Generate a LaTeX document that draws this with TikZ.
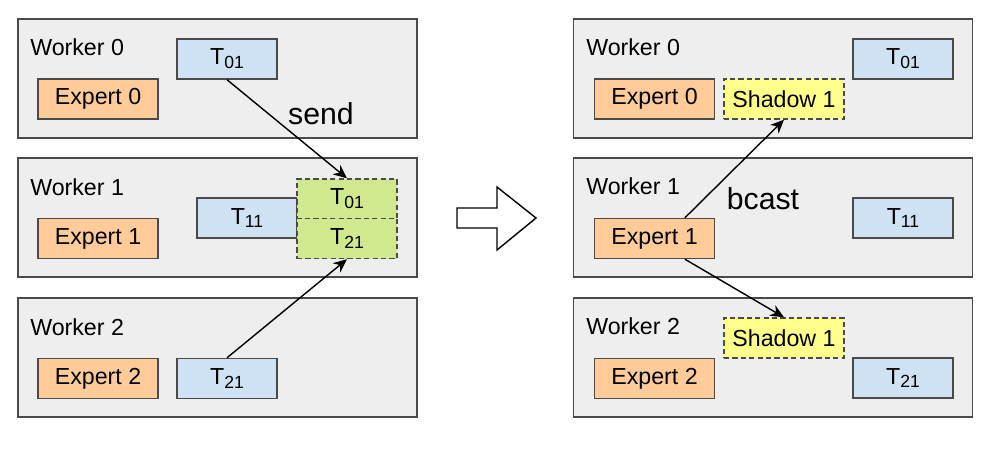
\documentclass[tikz,border=0pt]{standalone}
\usepackage{fontspec}
\setmainfont{Liberation Sans}
\usepackage{tikz}
\usetikzlibrary{arrows.meta}
\definecolor{wgray}{HTML}{EEEEEE}
\definecolor{edgegray}{HTML}{4A4A4A}
\definecolor{expertorange}{HTML}{FFCC99}
\definecolor{tokblue}{HTML}{CFE2F3}
\definecolor{recvgreen}{HTML}{D1E98E}
\definecolor{shadowyellow}{HTML}{FFFF8C}
\newcommand{\tsub}[1]{\raisebox{-2.8pt}{\fontsize{12.5}{14}\selectfont #1}}

\begin{document}
\begin{tikzpicture}[x=0.025cm,y=-0.025cm,
  font=\fontsize{16.5}{19}\selectfont,
  worker/.style={draw=edgegray,fill=wgray,line width=1pt,
                 minimum width=9.975cm,minimum height=2.975cm,inner sep=0pt},
  wlab/.style={anchor=west,inner sep=0pt},
  expert/.style={draw=edgegray,fill=expertorange,line width=1pt,
                 minimum width=3cm,minimum height=1cm,inner sep=0pt},
  tok/.style={draw=edgegray,fill=tokblue,line width=1pt,
              minimum width=2.5cm,minimum height=1cm,inner sep=0pt},
  recv/.style={tok,fill=recvgreen,dash pattern=on 1.3mm off 0.8mm},
  shadow/.style={expert,fill=shadowyellow,dash pattern=on 1.3mm off 0.8mm},
  arr/.style={-{Stealth[length=3.4mm,width=3mm]},line width=1pt},
  op/.style={font=\fontsize{21.5}{24}\selectfont,inner sep=0pt}]
  \useasboundingbox (0,0) rectangle (988,448);
  % left: send to the expert owners
  \node[worker] (lw0) at (217.5,78.5) {};
  \node[worker] (lw1) at (217.5,217.5) {};
  \node[worker] (lw2) at (217.5,357.5) {};
  \node[wlab] (lw0l) at (30,47) {Worker 0};
  \node[wlab] (lw1l) at (30,187) {Worker 1};
  \node[wlab] (lw2l) at (30,327) {Worker 2};
  \node[expert] (le0) at (98,99) {Expert 0};
  \node[expert] (le1) at (98,238.5) {Expert 1};
  \node[expert] (le2) at (98,378.5) {Expert 2};
  \node[tok] (lt01) at (227,59) {T\tsub{01}};
  \node[tok] (lt11) at (247,218) {T\tsub{11}};
  \node[tok] (lt21) at (227,378.5) {T\tsub{21}};
  \node[recv] (rt01) at (347,199) {T\tsub{01}};
  \node[recv] (rt21) at (347,238.5) {T\tsub{21}};
  \draw[arr] (lt01.south) -- (rt01.north);
  \draw[arr] (lt21.north) -- (rt21.south);
  \node[op] (send) at (321,114) {send};
  % hollow arrow
  \draw[line width=1pt,fill=white] (457,208) -- (497,208) -- (497,187)
    -- (536,218) -- (497,250) -- (497,228) -- (457,228) -- cycle;
  % right: broadcast the shadowed expert
  \node[worker] (rw0) at (773,78.5) {};
  \node[worker] (rw1) at (773,217.5) {};
  \node[worker] (rw2) at (773,357.5) {};
  \node[wlab] (rw0l) at (586,47) {Worker 0};
  \node[wlab] (rw1l) at (586,186) {Worker 1};
  \node[wlab] (rw2l) at (586,326) {Worker 2};
  \node[expert] (re0) at (654.5,99) {Expert 0};
  \node[expert] (re1) at (654.5,238.5) {Expert 1};
  \node[expert] (re2) at (654.5,378.5) {Expert 2};
  \node[shadow] (sh0) at (784,99) {Shadow 1};
  \node[shadow] (sh2) at (784,338) {Shadow 1};
  \node[tok] (st01) at (903,59) {T\tsub{01}};
  \node[tok] (st11) at (903,218) {T\tsub{11}};
  \node[tok] (st21) at (903,378) {T\tsub{21}};
  \draw[arr] ([xshift=0.76cm]re1.north) -- (sh0.south);
  \draw[arr] ([xshift=0.76cm]re1.south) -- (sh2.north);
  \node[op] (bcast) at (763,199) {bcast};
\end{tikzpicture}
\end{document}
